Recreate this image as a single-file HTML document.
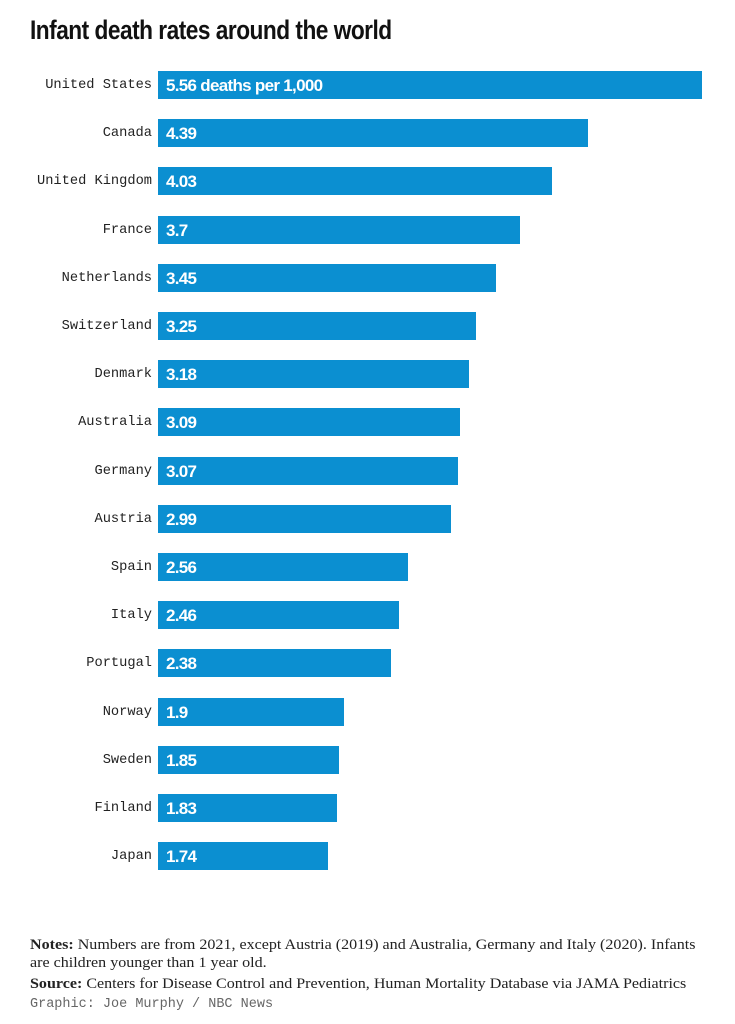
<!DOCTYPE html>
<html><head><meta charset="utf-8"><style>
body{margin:0;background:#fff;width:735px;height:1024px;position:relative;overflow:hidden}
.t{position:absolute;left:30px;top:15px;font:bold 27px "Liberation Sans",sans-serif;letter-spacing:-0.6px;color:#111;white-space:nowrap;transform:scaleX(0.84);transform-origin:left top}
.l{position:absolute;right:583px;font:13.7px "Liberation Mono",monospace;color:#222;white-space:nowrap;line-height:30px}
.b{position:absolute;left:158px;height:28px;background:#0b8fd1;color:#fff;font:bold 17px "Liberation Sans",sans-serif;letter-spacing:-0.7px;line-height:29px;padding-left:8px;box-sizing:border-box;white-space:nowrap}
.n{position:absolute;left:30px;font:15px "Liberation Serif",serif;color:#222;white-space:nowrap;transform:scaleX(1.07);transform-origin:left top}
</style></head><body>
<div class="t">Infant death rates around the world</div>
<div id="c"></div>
<div class="n" style="top:937px"><b>Notes:</b> Numbers are from 2021, except Austria (2019) and Australia, Germany and Italy (2020). Infants</div>
<div class="n" style="top:955px">are children younger than 1 year old.</div>
<div class="n" style="top:976px"><b>Source:</b> Centers for Disease Control and Prevention, Human Mortality Database via JAMA Pediatrics</div>
<div class="n" style="top:997px;font:13.5px 'Liberation Mono',monospace;color:#666;transform:none">Graphic: Joe Murphy / NBC News</div>
<script>
var d=[["United States",5.56,"5.56 deaths per 1,000"],["Canada",4.39],["United Kingdom",4.03],["France",3.7],["Netherlands",3.45],["Switzerland",3.25],["Denmark",3.18],["Australia",3.09],["Germany",3.07],["Austria",2.99],["Spain",2.56],["Italy",2.46],["Portugal",2.38],["Norway",1.9],["Sweden",1.85],["Finland",1.83],["Japan",1.74]];
var h="";
d.forEach(function(r,i){var y=Math.round(71+48.2*i);
h+='<div class="l" style="top:'+y+'px">'+r[0]+'</div><div class="b" style="top:'+y+'px;width:'+Math.round(r[1]*97.85)+'px">'+(r[2]||r[1])+'</div>';});
document.getElementById("c").innerHTML=h;
</script>
</body></html>
